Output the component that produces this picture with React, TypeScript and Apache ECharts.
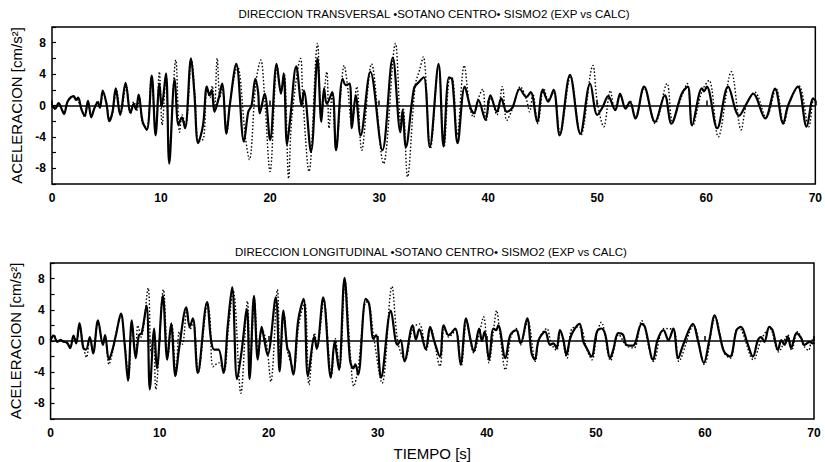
import React, { useEffect, useRef } from "react";
import * as echarts from "echarts";

const titleTrans = "DIRECCION TRANSVERSAL •SOTANO CENTRO• SISMO2 (EXP vs CALC)";
const titleLong = "DIRECCION LONGITUDINAL •SOTANO CENTRO• SISMO2 (EXP vs CALC)";
const yName = "ACELERACION [cm/s²]";
const xName = "TIEMPO [s]";

// Transversal direction — solid (EXP)
const transExp: [number, number][] = [
  [0,0],[0.3,-0.4],[0.6,0.3],[0.9,-0.5],[1.1,-1.1],[1.4,0.4],[1.7,1.0],[2.0,1.2],[2.2,0.7],[2.4,1.0],
  [2.7,-0.5],[3.0,-1.3],[3.3,0.6],[3.6,-1.5],[3.9,-0.3],[4.2,0.4],[4.4,-0.3],[4.65,1.9],[5.0,0.2],[5.25,-2.0],
  [5.55,-0.8],[5.85,2.2],[6.25,-1.2],[6.75,2.9],[7.2,-0.9],[7.5,0.2],[7.7,-0.5],[7.95,1.4],[8.3,-2.0],[8.7,-3.1],
  [9.15,3.8],[9.5,-3.8],[9.85,2.8],[10.05,-0.2],[10.45,4.1],[10.75,-7.4],[11.25,3.4],[11.6,-2.5],[11.9,-1.5],[12.2,-2.9],
  [12.75,6.0],[13.05,1.7],[13.4,-4.8],[13.85,-2.5],[14.2,2.4],[14.45,1.3],[14.65,2.0],[14.9,-0.8],[15.3,1.0],[15.6,2.8],
  [16.0,-3.6],[16.3,0.0],[16.9,5.3],[17.6,-4.6],[18.0,-0.8],[18.3,0.0],[18.65,3.4],[18.9,1.7],[19.05,-1.0],[19.5,1.5],
  [20.0,-4.4],[20.6,5.3],[21.0,1.5],[21.25,4.1],[21.55,-5.0],[21.85,-1.6],[22.4,5.0],[22.9,0.0],[23.1,1.9],[23.75,-5.9],
  [24.35,6.0],[24.7,-2.1],[24.95,2.2],[25.2,0.2],[25.7,1.7],[26.05,-5.7],[26.65,3.4],[26.95,2.6],[27.3,2.8],[27.5,-2.9],
  [27.85,1.3],[28.3,-3.8],[29.2,4.3],[30.3,-5.7],[31.25,6.1],[31.95,-3.4],[32.15,-0.6],[32.45,-5.3],[33.2,2.2],[33.65,3.0],
  [34.1,3.6],[34.65,-5.3],[35.45,5.3],[35.9,-5.2],[36.4,3.6],[36.7,3.3],[37.2,-4.8],[37.85,2.4],[38.4,-0.4],[38.7,-1.0],
  [39.1,0.7],[39.75,-1.8],[40.2,1.3],[40.8,-0.8],[41.2,0.9],[41.7,-0.8],[42.2,-0.3],[42.9,2.1],[43.5,1.1],[43.9,1.7],
  [44.5,-2.1],[45.0,2.0],[45.5,0.5],[46.0,2.0],[46.55,-3.8],[47.5,3.9],[48.45,-3.6],[49.35,2.8],[50.0,-1.2],[50.5,-0.2],
  [51.0,1.2],[51.65,-0.6],[52.1,1.5],[52.6,-0.4],[53.0,0.45],[53.5,-1.65],[54.3,2.4],[55.3,-2.1],[56.2,1.3],[56.8,-2.3],
  [57.75,1.5],[58.3,2.4],[58.7,-2.5],[59.6,2.2],[59.8,1.8],[60.05,2.4],[61.0,-2.9],[62.0,2.4],[63.0,-1.3],[63.7,0.25],
  [64.3,1.5],[65.4,-1.65],[66.3,2.15],[67.05,-2.3],[67.5,0.0],[68.4,2.4],[69.2,-2.7],[69.8,0.9],[70,0.6]
];

// Transversal direction — dotted (CALC)
const transCalc: [number, number][] = [
  [0,0],[0.3,-0.5],[0.6,0.3],[0.9,-0.4],[1.1,-1.0],[1.4,0.4],[1.7,1.1],[2.0,1.0],[2.3,0.8],[2.7,-0.4],
  [3.0,-1.5],[3.3,0.5],[3.6,-1.2],[3.9,-0.2],[4.2,0.6],[4.4,-0.2],[4.7,1.6],[5.0,0.3],[5.3,-1.8],[5.6,-0.7],
  [5.9,2.0],[6.3,-1.0],[6.8,2.5],[7.2,-1.1],[7.5,0.5],[7.8,-0.6],[8.0,1.2],[8.3,-2.3],[8.7,-2.8],[9.1,3.5],
  [9.5,-3.3],[9.85,4.3],[10.1,-2.5],[10.45,3.8],[10.75,-5.5],[11.35,5.8],[11.7,-3.4],[11.95,-1.2],[12.25,-2.6],[12.8,5.8],
  [13.1,1.5],[13.45,-4.6],[13.9,-4.2],[14.2,2.0],[14.5,1.0],[14.7,2.5],[14.9,-0.4],[15.15,6.0],[15.4,1.0],[15.6,2.2],
  [16.05,-3.4],[16.3,0.2],[17.0,5.0],[17.75,-4.2],[18.1,-6.9],[18.7,3.0],[19.15,5.8],[19.5,1.0],[20.0,-8.4],[20.65,5.0],
  [21.0,1.8],[21.3,4.0],[21.7,-9.3],[22.0,-1.5],[22.8,6.0],[23.0,1.0],[23.57,-8.4],[24.35,7.9],[24.7,-1.5],[25.2,4.3],
  [25.4,-2.9],[25.7,1.5],[26.05,-5.5],[26.8,5.1],[27.1,2.5],[27.5,-2.5],[27.95,2.4],[28.4,-5.7],[29.3,5.3],[30.4,-7.4],
  [31.5,7.9],[32.0,-2.5],[32.2,-0.3],[32.6,-9.1],[33.3,2.5],[33.7,4.5],[34.05,6.2],[34.7,-5.5],[35.45,5.0],[35.95,-5.3],
  [36.4,3.3],[36.7,3.5],[37.15,-3.8],[37.8,5.1],[38.3,-0.2],[38.65,-1.5],[39.0,0.5],[39.5,2.1],[39.8,-2.0],[40.25,1.0],
  [40.8,-1.2],[41.3,2.4],[41.7,-1.9],[42.2,-0.5],[42.95,2.4],[43.5,0.8],[43.8,-0.8],[44.1,1.5],[44.55,-2.3],[45.1,2.2],
  [45.5,0.8],[46.0,1.7],[46.6,-3.6],[47.55,3.7],[48.5,-3.8],[49.6,5.1],[50.0,0.5],[50.6,-2.7],[51.2,1.9],[51.6,-0.4],
  [52.1,1.2],[52.6,-0.2],[53.0,0.6],[53.5,-1.5],[54.3,2.2],[55.3,-2.3],[56.4,2.8],[56.9,-2.0],[57.75,1.2],[58.25,2.8],
  [58.75,-2.6],[59.6,1.8],[60.25,3.2],[61.1,-4.0],[62.3,4.3],[63.2,-3.1],[63.7,0.2],[64.45,1.7],[65.5,-1.5],[66.4,2.15],
  [67.1,-2.3],[67.6,0.2],[68.5,2.5],[69.4,-2.7],[69.85,0.8],[70,0.4]
];

// Longitudinal direction — solid (EXP)
const longExp: [number, number][] = [
  [0,0.1],[0.3,0.7],[0.6,-0.1],[0.9,0.1],[1.2,-0.1],[1.5,-0.2],[1.8,-0.9],[2.1,0.7],[2.35,-0.3],[2.65,2.3],
  [3.0,-0.9],[3.25,-1.1],[3.6,0.5],[3.9,-1.6],[4.35,2.65],[4.8,-0.5],[5.0,0.75],[5.35,-2.4],[5.7,-1.0],[6.0,0.8],
  [6.45,3.5],[6.8,-0.5],[7.1,-5.1],[7.45,2.65],[7.8,-2.2],[8.1,0.75],[8.35,1.0],[8.8,4.55],[9.1,-6.2],[9.5,1.6],
  [9.75,-3.5],[10.3,5.8],[10.7,-2.4],[11.05,2.2],[11.45,-4.5],[11.8,-0.8],[12.45,4.3],[12.75,1.8],[13.05,2.9],[13.5,-4.1],
  [14.35,5.0],[14.7,0.3],[15.0,-1.1],[15.4,-1.1],[15.85,-4.1],[16.25,2.0],[16.65,6.9],[17.1,-4.9],[17.5,-1.5],[18.0,4.1],
  [18.25,-4.9],[18.65,5.8],[19.0,-2.4],[19.35,1.8],[19.55,0.5],[19.9,-1.8],[20.65,5.6],[21.0,-3.9],[21.35,3.9],[21.7,-0.9],
  [21.9,-1.5],[22.25,-4.3],[22.7,2.6],[23.2,5.4],[23.6,-4.5],[24.2,0.55],[24.4,-1.0],[25.0,5.6],[25.7,-4.7],[26.05,0.0],
  [26.2,-1.3],[26.45,-3.7],[26.95,8.1],[27.45,-2.4],[27.75,-3.5],[27.95,-3.0],[28.2,-4.3],[28.9,5.4],[29.2,4.8],[29.6,0.3],
  [29.85,0.75],[30.3,-4.7],[31.2,3.9],[31.8,-0.5],[32.1,0.1],[32.45,-2.6],[33.2,2.0],[33.5,0.2],[33.8,1.5],[34.4,-1.05],
  [34.8,1.8],[35.15,0.1],[35.7,-2.0],[36.05,2.0],[36.5,0.75],[37.1,1.6],[37.6,-3.0],[38.1,2.9],[38.5,0.2],[38.8,-1.35],
  [39.3,1.6],[39.55,0.0],[39.8,1.2],[40.2,-2.4],[40.6,1.6],[40.85,1.4],[41.05,2.0],[41.7,-2.2],[42.15,0.75],[42.7,1.4],
  [43.1,-0.3],[43.7,2.9],[44.1,-1.55],[44.4,-2.4],[44.75,0.1],[45.35,1.2],[45.8,-0.5],[46.1,-0.3],[46.4,-0.9],[46.7,1.4],
  [47.0,0.3],[47.3,-1.8],[47.6,0.1],[47.9,1.2],[48.5,2.2],[48.85,-0.1],[49.15,-0.9],[49.6,-2.0],[50.1,1.2],[50.5,1.6],
  [50.85,0.9],[51.3,-2.2],[51.6,-1.1],[52.05,1.0],[52.5,0.8],[52.8,-0.5],[53.4,-0.6],[54.2,2.2],[54.5,1.8],[55.25,-2.4],
  [55.65,0.1],[56.2,1.4],[56.65,0.1],[57.1,1.6],[57.55,-2.2],[58.0,-0.5],[58.9,2.2],[59.35,0.1],[59.9,-2.8],[60.4,0.1],
  [60.9,3.3],[61.35,0.8],[61.75,-1.35],[62.3,-2.0],[62.9,1.4],[63.3,1.8],[63.9,-0.3],[64.4,-2.0],[64.85,0.1],[65.15,0.5],
  [65.45,-0.1],[65.9,1.8],[66.2,1.4],[66.7,-1.15],[67.0,0.1],[67.3,-0.5],[67.6,0.55],[67.9,-0.9],[68.4,1.0],[68.85,0.3],
  [69.1,-0.5],[69.6,-0.1],[69.9,-0.3],[70,-0.2]
];

// Longitudinal direction — dotted (CALC)
const longCalc: [number, number][] = [
  [0,0.2],[0.3,0.8],[0.6,-0.1],[0.9,0.2],[1.2,0.0],[1.5,-0.3],[1.8,-0.7],[2.1,0.5],[2.35,-0.2],[2.65,2.0],
  [3.0,-0.6],[3.3,-2.1],[3.6,0.4],[3.9,-1.4],[4.35,2.5],[4.8,-0.3],[5.0,0.5],[5.35,-3.0],[5.7,-1.3],[6.0,1.0],
  [6.45,3.2],[6.8,-0.2],[7.15,-4.8],[7.45,2.2],[7.8,-1.5],[8.0,2.0],[8.3,0.5],[8.95,6.8],[9.2,-1.5],[9.45,0.8],
  [9.65,-6.2],[10.35,6.6],[10.75,-2.0],[11.1,2.3],[11.5,-4.3],[11.8,1.2],[12.1,-0.4],[12.5,4.0],[12.8,1.5],[13.1,2.5],
  [13.55,-4.0],[14.4,4.6],[14.6,3.3],[14.9,-3.3],[15.4,-2.8],[15.9,-3.8],[16.3,1.6],[16.75,6.4],[17.45,-6.7],[18.05,5.1],
  [18.3,-3.5],[18.7,5.2],[19.05,-1.8],[19.4,1.5],[19.8,-0.3],[20.2,-5.2],[20.8,6.6],[21.05,-3.0],[21.4,3.5],[21.75,-1.5],
  [22.3,-3.5],[22.75,2.0],[23.3,5.0],[23.7,-5.6],[24.2,1.0],[24.45,-0.8],[25.05,5.2],[25.75,-4.5],[26.1,0.3],[26.5,-3.5],
  [27.0,7.6],[27.5,-2.0],[27.8,-5.8],[28.2,-3.5],[28.95,5.0],[29.25,4.6],[29.6,0.8],[30.4,-5.4],[31.3,7.0],[31.85,-0.2],
  [32.5,-2.4],[33.2,1.6],[33.8,2.2],[34.45,-1.2],[34.85,1.6],[35.7,-3.25],[36.1,1.8],[36.5,0.5],[37.15,1.4],[37.65,-3.2],
  [38.15,2.4],[38.8,-1.5],[39.35,1.2],[39.7,3.1],[40.2,-2.8],[40.6,1.2],[40.9,3.9],[41.2,1.0],[41.7,-3.7],[42.2,0.5],
  [42.7,1.6],[43.1,-0.5],[43.75,2.6],[44.45,-2.6],[44.8,0.3],[45.5,1.6],[45.9,-0.3],[46.4,-1.2],[46.75,1.2],[47.35,-2.2],
  [47.8,1.6],[48.5,1.8],[49.2,-1.2],[49.65,-2.4],[50.1,1.0],[50.5,2.4],[51.35,-2.5],[52.1,0.8],[52.8,-0.6],[53.5,-0.9],
  [54.2,2.6],[55.3,-2.6],[56.25,1.6],[57.15,1.4],[57.6,-2.6],[58.95,2.0],[59.95,-3.0],[60.95,3.0],[61.8,-1.6],[62.35,-2.2],
  [62.95,1.6],[63.35,1.4],[64.45,-2.4],[65.2,0.3],[65.95,1.6],[66.75,-1.4],[67.6,0.8],[67.95,-1.2],[68.5,1.2],[69.15,-0.8],
  [69.5,-1.2],[69.8,0.2],[70,-0.4]
];

const FONT = '"Liberation Sans", Arial, sans-serif';

function xAxisCfg(gridIndex: number, withName: boolean) {
  return {
    type: "value" as const,
    gridIndex,
    min: 0,
    max: 70,
    interval: 10,
    axisLine: { show: false },
    axisTick: { show: true, inside: true, length: 5, lineStyle: { color: "#000", width: 1.5 } },
    axisLabel: { color: "#000", fontWeight: "bold" as const, fontSize: 12, fontFamily: FONT, margin: 8 },
    splitLine: { show: false },
    name: withName ? xName : "",
    nameLocation: "middle" as const,
    nameGap: 27,
    nameTextStyle: { color: "#000", fontSize: 15, fontFamily: FONT },
  };
}

function yAxisCfg(gridIndex: number) {
  return {
    type: "value" as const,
    gridIndex,
    min: -10,
    max: 10,
    interval: 2,
    axisLine: { show: false },
    axisTick: { show: true, inside: true, length: 4, lineStyle: { color: "#000", width: 1.2 } },
    axisLabel: {
      color: "#000",
      fontWeight: "bold" as const,
      fontSize: 12,
      fontFamily: FONT,
      margin: 6,
      formatter: (v: number) => (v % 4 === 0 && Math.abs(v) < 10 ? String(v) : ""),
    },
    splitLine: { show: false },
    name: yName,
    nameLocation: "middle" as const,
    nameGap: 25,
    nameTextStyle: { color: "#000", fontSize: 15, fontFamily: FONT },
  };
}

function solid(idx: number, data: [number, number][]) {
  return {
    type: "line" as const,
    xAxisIndex: idx,
    yAxisIndex: idx,
    data,
    showSymbol: false,
    smooth: 0.35,
    z: 3,
    lineStyle: { color: "#000", width: 2.2 },
    markLine: {
      silent: true,
      symbol: ["none", "none"],
      label: { show: false },
      lineStyle: { color: "#000", width: 1.6, type: "solid" as const },
      data: [{ yAxis: 0 }],
    },
  };
}

function dotted(idx: number, data: [number, number][]) {
  return {
    type: "line" as const,
    xAxisIndex: idx,
    yAxisIndex: idx,
    data,
    showSymbol: false,
    smooth: 0.35,
    z: 2,
    lineStyle: { color: "#000", width: 1.4, type: [1.5, 2] as any },
  };
}

export default function App() {
  const ref = useRef<HTMLDivElement>(null);
  useEffect(() => {
    if (!ref.current) return;
    const chart = echarts.init(ref.current, undefined, { renderer: "svg" });
    chart.setOption({
      animation: false,
      backgroundColor: "#fff",
      grid: [
        { left: 52, top: 27, width: 764, height: 157, show: true, borderColor: "#000", borderWidth: 1.5, backgroundColor: "transparent" },
        { left: 48, top: 263, width: 766, height: 157, show: true, borderColor: "#000", borderWidth: 1.5, backgroundColor: "transparent" },
      ],
      xAxis: [xAxisCfg(0, false), xAxisCfg(1, true)],
      yAxis: [yAxisCfg(0), yAxisCfg(1)],
      graphic: [
        { type: "text", x: 434, y: 14, style: { text: titleTrans, fill: "#000", font: `11.5px ${FONT}`, textAlign: "center", textVerticalAlign: "middle" } },
        { type: "text", x: 431, y: 252, style: { text: titleLong, fill: "#000", font: `11.5px ${FONT}`, textAlign: "center", textVerticalAlign: "middle" } },
      ],
      series: [dotted(0, transCalc), solid(0, transExp), dotted(1, longCalc), solid(1, longExp)],
    });
    return () => chart.dispose();
  }, []);
  return <div ref={ref} style={{ position: "fixed", left: 0, top: 0, width: 825, height: 462, background: "#fff" }} />;
}
